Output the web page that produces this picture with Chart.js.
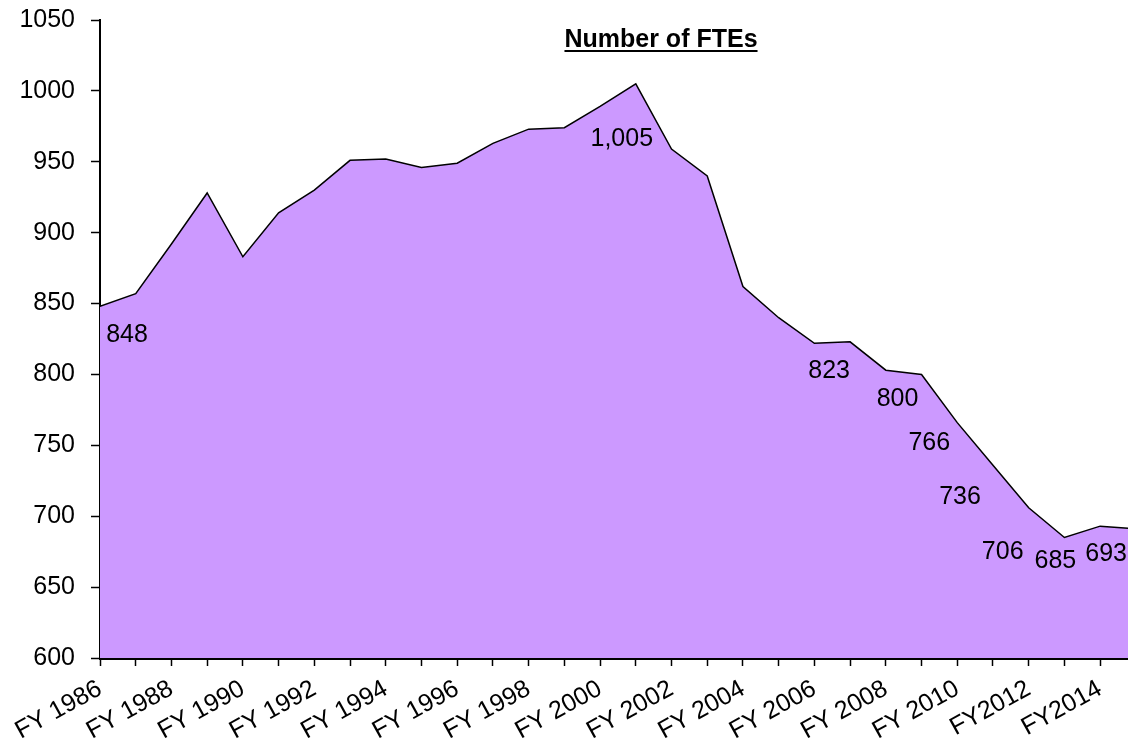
<!DOCTYPE html>
<html>
<head>
<meta charset="utf-8">
<script src="https://cdn.jsdelivr.net/npm/chart.js@4"></script>
<style>
  html, body { margin: 0; padding: 0; background: #fff; overflow: hidden; }
  #wrap { width: 1128px; height: 738px; position: relative; }
</style>
</head>
<body>
<div id="wrap"><canvas id="fteChart"></canvas></div>
<script>
// fiscal years and FTE counts
const years = [1986, 1987, 1988, 1989, 1990, 1991, 1992, 1993, 1994, 1995,
               1996, 1997, 1998, 1999, 2000, 2001, 2002, 2003, 2004, 2005,
               2006, 2007, 2008, 2009, 2010, 2011, 2012, 2013, 2014, 2015];
const ftes = [848, 857, 892, 928, 883, 914, 930, 951, 952, 946,
              949, 963, 973, 974, 989, 1005, 959, 940, 862, 840,
              822, 823, 803, 800, 766, 736, 706, 685, 693, 691];

// x tick labels (only every other year is labelled)
const tickYears = [1986, 1988, 1990, 1992, 1994, 1996, 1998, 2000, 2002, 2004, 2006, 2008, 2010, 2012, 2014];
const tickLabels = ['FY 1986', 'FY 1988', 'FY 1990', 'FY 1992', 'FY 1994', 'FY 1996', 'FY 1998',
                    'FY 2000', 'FY 2002', 'FY 2004', 'FY 2006', 'FY 2008', 'FY 2010', 'FY2012', 'FY2014'];
const yTicks = [600, 650, 700, 750, 800, 850, 900, 950, 1000, 1050];

// years that carry a value label
const labelledYears = [1986, 2001, 2007, 2009, 2010, 2011, 2012, 2013, 2014];

const FONT = '"Liberation Sans", Arial, sans-serif';

// where each value label sits relative to its point (px)
const labelOffsets = {
  1986: [27, 29], 2001: [-14, 55], 2007: [-21, 29], 2009: [-24, 25],
  2010: [-28, 20], 2011: [-33, 32], 2012: [-26, 44], 2013: [-9, 24], 2014: [6, 28]
};

const valueLabels = {
  id: 'valueLabels',
  afterDatasetsDraw(chart) {
    const ctx = chart.ctx;
    const meta = chart.getDatasetMeta(0);
    ctx.save();
    ctx.font = '25px ' + FONT;
    ctx.fillStyle = '#000';
    ctx.textAlign = 'center';
    ctx.textBaseline = 'middle';
    labelledYears.forEach(y => {
      const i = years.indexOf(y);
      const pt = meta.data[i];
      const off = labelOffsets[y];
      ctx.fillText(ftes[i].toLocaleString('en-US'), pt.x + off[0], pt.y + off[1]);
    });
    ctx.restore();
  }
};

const underlinedTitle = {
  id: 'underlinedTitle',
  afterDraw(chart) {
    const ctx = chart.ctx;
    const text = 'Number of FTEs';
    ctx.save();
    ctx.font = 'bold 25px ' + FONT;
    ctx.fillStyle = '#000';
    ctx.textAlign = 'center';
    ctx.textBaseline = 'alphabetic';
    const cx = 661, by = 47;
    ctx.fillText(text, cx, by);
    const w = ctx.measureText(text).width;
    ctx.fillRect(cx - w / 2, by + 3, w, 2);
    ctx.restore();
  }
};

const ctx = document.getElementById('fteChart').getContext('2d');

new Chart(ctx, {
  type: 'line',
  data: {
    datasets: [{
      data: years.map((y, i) => ({ x: y, y: ftes[i] })),
      backgroundColor: '#CC99FF',
      borderColor: '#000',
      borderWidth: 1.5,
      fill: 'start',
      tension: 0,
      pointRadius: 0
    }]
  },
  plugins: [valueLabels, underlinedTitle],
  options: {
    responsive: true,
    maintainAspectRatio: false,
    animation: false,
    layout: { padding: { top: 20, right: 0, bottom: 0, left: 0 } },
    plugins: {
      legend: { display: false },
      title: { display: false },
      tooltip: { enabled: false }
    },
    scales: {
      x: {
        type: 'linear',
        min: 1986,
        max: 2014.78,
        afterBuildTicks(scale) {
          scale.ticks = years.filter(y => y <= 2014).map(y => ({ value: y }));
        },
        afterFit(scale) { scale.height = 80; },
        grid: { drawOnChartArea: false, drawTicks: true, tickLength: 8, color: '#000', tickColor: '#000', tickWidth: 1.5 },
        border: { color: '#000', width: 3 },
        ticks: {
          autoSkip: false,
          maxRotation: 29,
          minRotation: 29,
          padding: 8,
          color: '#000',
          font: { family: FONT, size: 25 },
          callback(v) {
            const k = tickYears.indexOf(v);
            return k >= 0 ? tickLabels[k] : '';
          }
        }
      },
      y: {
        min: 600,
        max: 1050,
        afterBuildTicks(scale) {
          scale.ticks = yTicks.map(v => ({ value: v }));
        },
        afterFit(scale) {
          scale.width = 100;
          scale.paddingTop = 0;
          scale.paddingBottom = 0;
        },
        grid: { drawOnChartArea: false, drawTicks: true, tickLength: 9, color: '#000', tickColor: '#000', tickWidth: 1.5 },
        border: { color: '#000', width: 2 },
        ticks: {
          padding: 16,
          color: '#000',
          font: { family: FONT, size: 25 },
          callback(v) { return String(v); }
        }
      }
    }
  }
});
</script>
</body>
</html>
